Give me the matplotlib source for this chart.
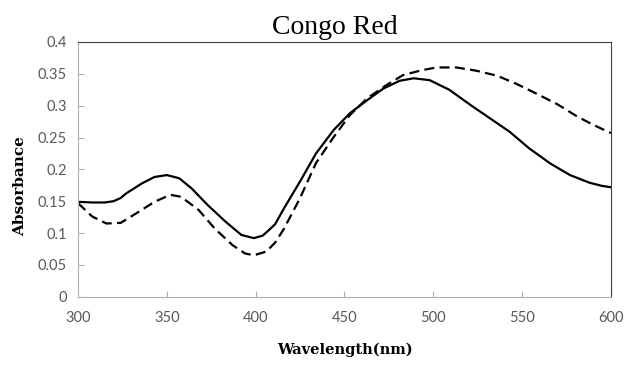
import matplotlib.pyplot as plt

# absorbance spectra
wl_solid = [300, 308, 315, 320, 324, 327, 336, 343, 350, 357, 364, 373, 383, 392, 399,
            404, 408, 411, 416, 425, 434, 444, 453, 463, 472, 481, 489, 498, 509, 521,
            532, 543, 554, 566, 577, 588, 595, 600]
abs_solid = [0.149, 0.148, 0.148, 0.150, 0.155, 0.162, 0.178, 0.188, 0.191, 0.186, 0.170,
             0.144, 0.118, 0.097, 0.092, 0.096, 0.106, 0.114, 0.139, 0.181, 0.225, 0.262,
             0.288, 0.309, 0.327, 0.339, 0.343, 0.340, 0.325, 0.301, 0.280, 0.259, 0.233,
             0.209, 0.191, 0.179, 0.174, 0.172]

wl_dash = [300, 308, 316, 324, 334, 343, 352, 358, 368, 377, 387, 394, 399, 406, 411,
           416, 425, 434, 444, 453, 463, 474, 483, 494, 502, 513, 524, 536, 547, 558,
           570, 581, 590, 600]
abs_dash = [0.147, 0.126, 0.115, 0.116, 0.133, 0.149, 0.160, 0.157, 0.136, 0.107, 0.081,
            0.068, 0.065, 0.071, 0.085, 0.107, 0.155, 0.210, 0.251, 0.285, 0.312, 0.333,
            0.348, 0.356, 0.360, 0.360, 0.355, 0.347, 0.334, 0.319, 0.302, 0.283, 0.270,
            0.257]

xticks = [300, 350, 400, 450, 500, 550, 600]
yticks = [0, 0.05, 0.1, 0.15, 0.2, 0.25, 0.3, 0.35, 0.4]
ytick_labels = ['0', '0.05', '0.1', '0.15', '0.2', '0.25', '0.3', '0.35', '0.4']

fig = plt.figure(figsize=(6.24, 3.65), dpi=100)
ax = fig.add_axes([0.125, 0.187, 0.854, 0.698])

ax.plot(wl_solid, abs_solid, color='black', lw=1.6, solid_capstyle='round')
ax.plot(wl_dash, abs_dash, color='black', lw=1.6, dashes=(4.5, 2.4))

ax.set_xlim(300, 600)
ax.set_ylim(0, 0.4)
ax.set_xticks(xticks)
ax.set_yticks(yticks)
ax.set_yticklabels(ytick_labels)

for side in ['left', 'bottom']:
    ax.spines[side].set_color('#b0b0b0')
for side in ['top', 'right']:
    ax.spines[side].set_color('#404040')
ax.tick_params(direction='in', length=4, color='#b0b0b0', labelcolor='#595959',
               labelsize=10.5)
ax.tick_params(axis='x', pad=10)
ax.tick_params(axis='y', pad=8)
for lab in ax.get_xticklabels() + ax.get_yticklabels():
    lab.set_family('Lato')

fig.text(0.537, 0.925, 'Congo Red', ha='center', va='center',
         family='Liberation Serif', fontsize=20)
ax.set_xlabel('Wavelength(nm)', family='DejaVu Serif', fontweight='bold',
              fontsize=10.5, labelpad=13)
ax.set_ylabel('Absorbance', family='DejaVu Serif', fontweight='bold',
              fontsize=11)
ax.yaxis.set_label_coords(-0.096, 0.435)

fig.savefig('out.png', dpi=100)
